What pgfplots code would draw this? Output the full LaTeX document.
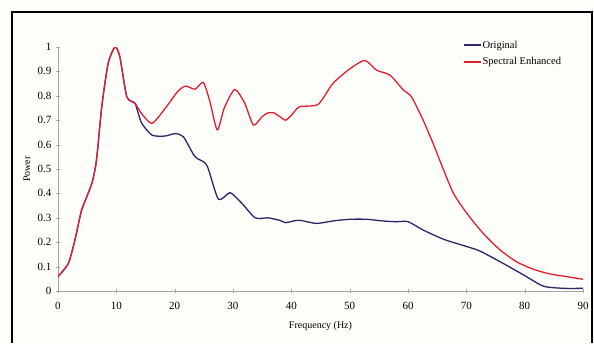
\documentclass[border=0pt]{standalone}
\usepackage{pgfplots}
\pgfplotsset{compat=1.18}
\usepackage{fontspec}
\setmainfont{Liberation Serif}
\definecolor{navy}{RGB}{40,40,105}
\definecolor{redl}{RGB}{225,30,50}
\definecolor{bg}{RGB}{253,253,249}
\begin{document}
\begin{tikzpicture}[x=1pt,y=1pt]
\fill[bg] (-58,-52) rectangle (536,291);
\draw[line width=1.6pt] (-46,-52) -- (-46,279) -- (534,279) -- (534,-52);
\begin{axis}[
  at={(0,0)}, anchor=origin,
  scale only axis, width=525pt, height=244pt,
  xmin=0, xmax=90, ymin=0, ymax=1,
  axis x line=bottom, axis y line=left,
  axis line style={gray!70, -},
  xtick={0,10,...,90}, ytick={0,0.1,...,1},
  yticklabels={0,0.1,0.2,0.3,0.4,0.5,0.6,0.7,0.8,0.9,1},
  tick align=center, major tick length=4pt,
  tick style={gray!70},
  ticklabel style={font=\fontsize{11}{12}\selectfont},
  xticklabel style={yshift=-6pt},
  yticklabel style={xshift=-1pt},
  /pgf/number format/assume math mode=true,
  xlabel={Frequency (Hz)}, ylabel={Power},
  label style={font=\fontsize{10}{11}\selectfont},
  xlabel style={at={(axis description cs:0.5,0)}, anchor=center, yshift=-35pt},
  ylabel style={at={(axis description cs:0,0.5)}, anchor=center, yshift=31pt},
  legend style={draw=none, fill=none, at={(0.771,1.03)}, anchor=north west,
    font=\fontsize{10.5}{12}\selectfont, row sep=6pt, inner sep=0pt,
    nodes={inner sep=1pt}},
  legend cell align=left,
  legend image code/.code={\draw[#1, line width=1.6pt] (0pt,0pt) -- (17pt,0pt);},
  line join=round,
]
\addplot[navy, line width=1.3pt, smooth, tension=0.4] coordinates {
(0,0.059)(1.77,0.113)(2.9,0.209)(4.06,0.332)(5.8,0.441)(6.6,0.537)(7.5,0.755)(8.6,0.933)(9.77,1.0)(10.6,0.96)(11.8,0.796)(13.2,0.769)(14.3,0.69)(16.1,0.639)(18.3,0.635)(20.1,0.645)(21.5,0.632)(23.5,0.55)(25.5,0.516)(27.5,0.376)(29.5,0.403)(31.5,0.36)(33.8,0.30)(36,0.30)(37,0.295)(38,0.29)(39,0.28)(40,0.285)(41.4,0.29)(44.3,0.277)(47.1,0.287)(50,0.294)(52.9,0.294)(55.7,0.287)(58,0.284)(60,0.284)(62.6,0.25)(66.1,0.212)(70.1,0.182)(72.3,0.164)(75.8,0.12)(79.8,0.066)(83.2,0.02)(86.6,0.011)(90,0.011)
};
\addlegendentry{Original}
\addplot[redl, line width=1.3pt, smooth, tension=0.4] coordinates {
(0,0.059)(1.77,0.113)(2.9,0.209)(4.06,0.332)(5.8,0.441)(6.6,0.537)(7.5,0.755)(8.6,0.933)(9.77,1.0)(10.6,0.96)(11.8,0.796)(13.2,0.769)(14.3,0.728)(16.1,0.687)(18.3,0.746)(20.6,0.82)(21.9,0.84)(23.5,0.827)(24.9,0.855)(26,0.78)(27.3,0.66)(28.5,0.75)(30.3,0.826)(32,0.77)(33.5,0.68)(35,0.715)(36,0.73)(37,0.73)(38,0.715)(39,0.70)(40,0.72)(41.4,0.755)(44.6,0.765)(47.1,0.85)(50,0.91)(52.6,0.945)(54.6,0.905)(56.9,0.885)(59.2,0.824)(60.6,0.796)(62.6,0.70)(64.3,0.605)(66.1,0.496)(67.8,0.40)(70.1,0.318)(72.9,0.236)(75.8,0.168)(78.6,0.12)(81.5,0.089)(84.3,0.070)(87.2,0.059)(90,0.048)
};
\addlegendentry{Spectral Enhanced}
\end{axis}
\end{tikzpicture}
\end{document}
